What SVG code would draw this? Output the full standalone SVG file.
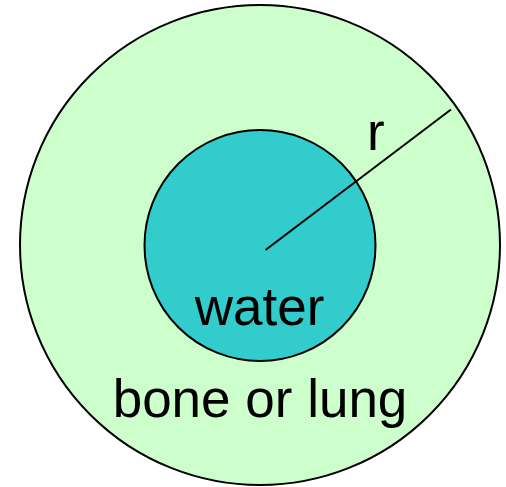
<svg xmlns="http://www.w3.org/2000/svg" width="506" height="487" viewBox="0 0 506 487">
<style>
.lbl{font-family:"Liberation Sans",Arial,sans-serif;font-size:53px;fill:#000}
</style>
<rect width="506" height="487" fill="#fff"/>
<g id="outer">
<circle cx="260" cy="245" r="240" fill="#ccffcc" stroke="#000" stroke-width="2"/>
<text class="lbl" x="260" y="417" text-anchor="middle">bone or lung</text>
</g>
<g id="inner">
<circle cx="260" cy="245.5" r="115.5" fill="#33cccc" stroke="#000" stroke-width="2"/>
<text class="lbl" x="259.5" y="325" text-anchor="middle">water</text>
</g>
<g id="connectors">
<line x1="265.5" y1="250" x2="451" y2="109.5" stroke="#000" stroke-width="2"/>
<text class="lbl" x="367" y="150">r</text>
</g>
</svg>
